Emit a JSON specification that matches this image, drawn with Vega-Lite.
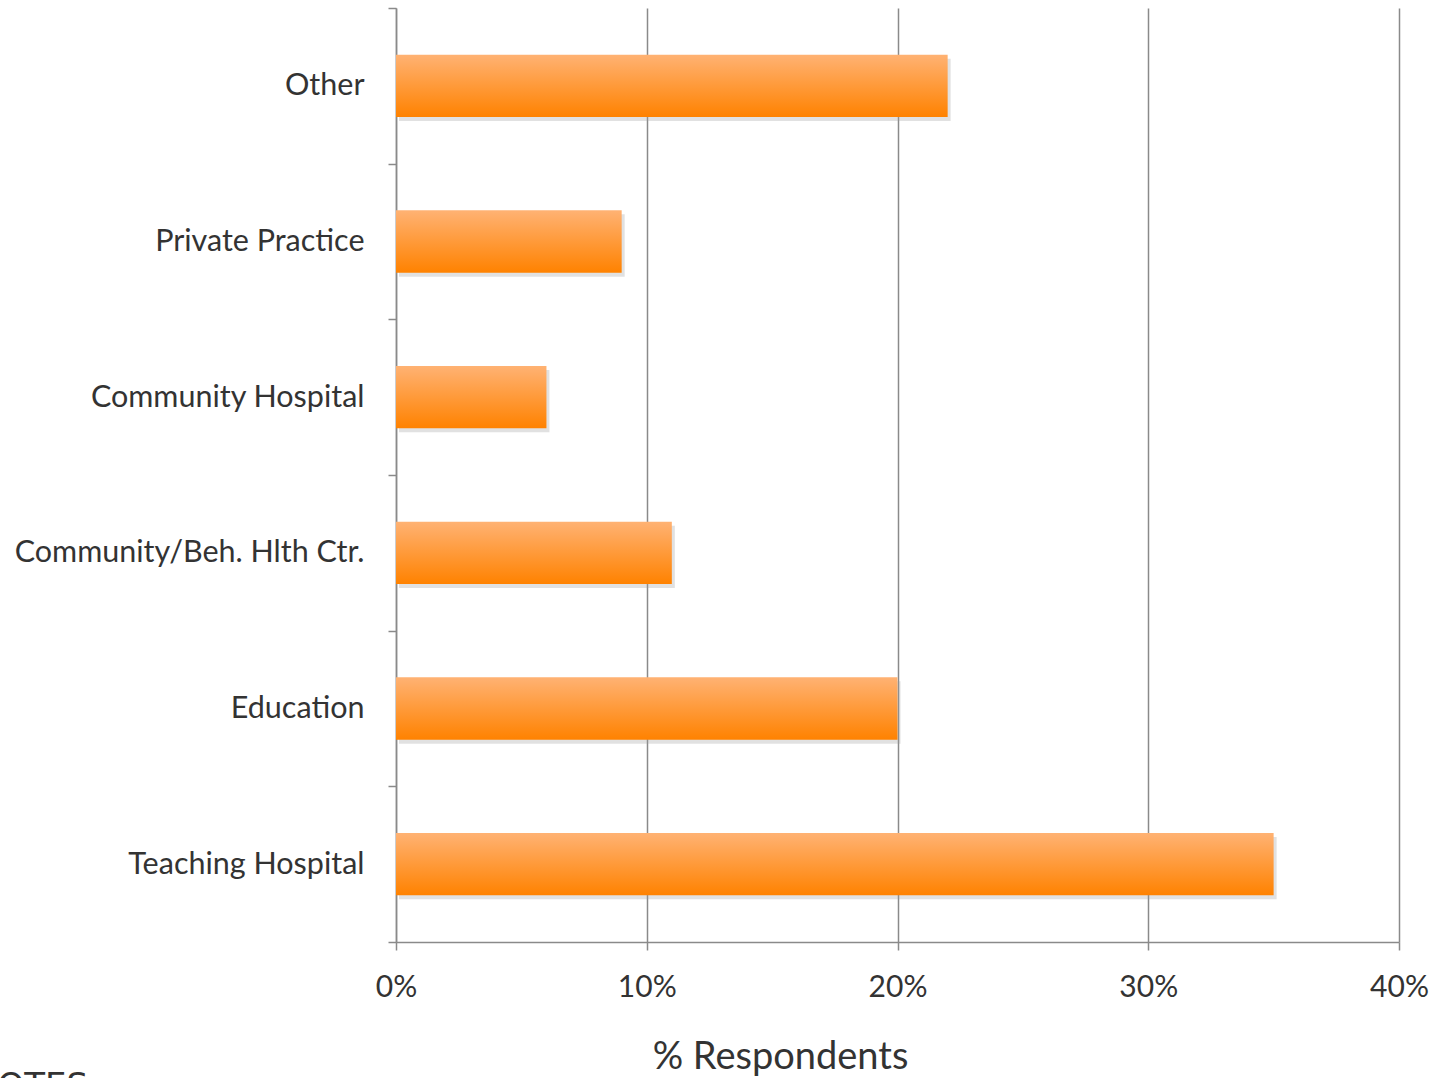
{
  "$schema": "https://vega.github.io/schema/vega-lite/v6.json",
  "width": 1003,
  "height": 934,
  "autosize": {"type": "none"},
  "padding": {"left": 396, "top": 8, "right": 33, "bottom": 136},
  "background": "white",
  "config": {"view": {"stroke": null}, "font": "Lato"},
  "title": {"text": "NOTES", "orient": "bottom", "anchor": "start", "frame": "group", "dx": -424, "dy": -10, "fontSize": 34, "fontWeight": "normal", "color": "#333333", "font": "DejaVu Sans", "baseline": "top"},
  "data": {"values": [
    {"category": "Other", "pct": 0.22},
    {"category": "Private Practice", "pct": 0.09},
    {"category": "Community Hospital", "pct": 0.06},
    {"category": "Community/Beh. Hlth Ctr.", "pct": 0.11},
    {"category": "Education", "pct": 0.20},
    {"category": "Teaching Hospital", "pct": 0.35}
  ]},
  "encoding": {
    "y": {"field": "category", "type": "nominal", "sort": null,
      "scale": {"paddingInner": 0, "paddingOuter": 0},
      "axis": {"title": null, "tickBand": "extent", "tickSize": 8, "labelPadding": 24, "labelFontSize": 30.5, "labelLimit": 0, "labelColor": "#333333", "domainColor": "#8a8a8a", "tickColor": "#8a8a8a", "domainWidth": 1.5, "tickWidth": 1.5, "labelFont": "Lato"}},
    "x": {"field": "pct", "type": "quantitative",
      "scale": {"domain": [0, 0.4], "nice": false},
      "axis": {"title": "% Respondents", "format": ".0%", "values": [0, 0.1, 0.2, 0.3, 0.4], "tickSize": 8, "labelPadding": 22, "labelFlush": false, "labelFontSize": 30, "labelColor": "#333333", "domainColor": "#8a8a8a", "tickColor": "#8a8a8a", "gridColor": "#8a8a8a", "gridWidth": 1.5, "domainWidth": 1.5, "tickWidth": 1.5, "titleFontSize": 38, "titleFontWeight": "normal", "titleColor": "#333333", "titleX": 384, "titleY": 126, "titleBaseline": "alphabetic", "titleAlign": "center", "labelFont": "Lato", "titleFont": "Lato"}}
  },
  "layer": [
    {"mark": {"type": "bar", "color": "#9a9a9a", "opacity": 0.3, "xOffset": 3, "yOffset": 4, "height": {"band": 0.4}}},
    {"mark": {"type": "bar", "height": {"band": 0.4}, "color": {"gradient": "linear", "x1": 0, "y1": 0, "x2": 0, "y2": 1, "stops": [{"offset": 0, "color": "#FFB273"}, {"offset": 1, "color": "#FF8200"}]}}}
  ]
}
